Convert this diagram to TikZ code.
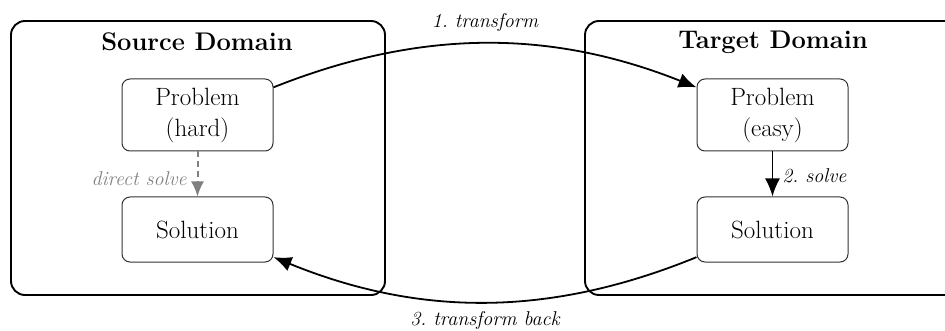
\documentclass[tikz,border=0pt]{standalone}
\usetikzlibrary{arrows.meta}
\definecolor{boxline}{RGB}{50,50,50}
\definecolor{dimgray}{RGB}{128,128,128}
\tikzset{
  domainbox/.style={draw=black, line width=1.9pt, rounded corners=14pt},
  itembox/.style={draw=boxline, line width=1pt, rounded corners=8pt, minimum width=151pt, align=center, inner sep=0pt, font=\fontsize{25}{31}\selectfont},
  titletext/.style={font=\fontsize{25.5}{30}\selectfont\bfseries, inner sep=0pt},
  labeltext/.style={font=\fontsize{20}{24}\selectfont\itshape, inner sep=0pt},
  mainarrow/.style={draw=black, line width=1.8pt, -{Latex[length=18pt,width=15pt]}},
  directarrow/.style={draw=dimgray, line width=2pt, dash pattern=on 6pt off 4pt, -{Latex[length=15pt,width=13pt]}},
}
\begin{document}
\begin{tikzpicture}[x=1pt,y=-1pt]
\useasboundingbox (0,0) rectangle (945,331);
\clip (0,0) rectangle (945,331);
% domains
\draw[domainbox] (11,21) rectangle (385,295);
\draw[domainbox] (585,21) rectangle (965,295);
\node[titletext] (st) at (197,42) {Source Domain};
\node[titletext] (tt) at (773,42) {Target Domain};
% items
\node[itembox, minimum height=72pt] (ph) at (197.5,115) {Problem\\(hard)};
\node[itembox, minimum height=65pt] (sh) at (197.5,229.5) {Solution};
\node[itembox, minimum height=72pt] (pe) at (772.5,115) {Problem\\(easy)};
\node[itembox, minimum height=65pt] (se) at (772.5,229.5) {Solution};
% arrows
\draw[directarrow] (ph.south) -- (sh.north)
  node[pos=0.6, left=10pt, labeltext, text=dimgray] (ds) {direct solve};
\draw[mainarrow] (pe.south) -- (se.north)
  node[pos=0.55, right=9pt, labeltext] (sv) {2.~solve};
\draw[mainarrow] (ph.20) .. controls (420,29) and (550,29) .. (pe.160);
\node[labeltext] (l1) at (485,23) {1.~transform};
\draw[mainarrow] (se.200) .. controls (550,317) and (420,317) .. (sh.-20);
\node[labeltext] (l3) at (485,320) {3.~transform back};
\end{tikzpicture}
\end{document}
